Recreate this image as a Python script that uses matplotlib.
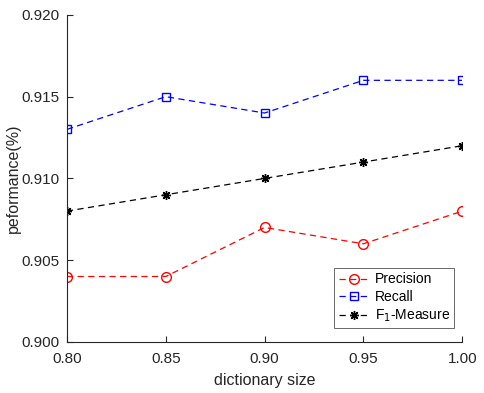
import matplotlib
matplotlib.use("Agg")
import matplotlib.pyplot as plt

plt.rcParams['font.family'] = ['Liberation Sans', 'DejaVu Sans']

dict_size = [0.80, 0.85, 0.90, 0.95, 1.00]
precision = [0.904, 0.904, 0.907, 0.906, 0.908]
recall = [0.913, 0.915, 0.914, 0.916, 0.916]
f1 = [0.908, 0.909, 0.910, 0.911, 0.912]
xticks = [0.80, 0.85, 0.90, 0.95, 1.00]
yticks = [0.900, 0.905, 0.910, 0.915, 0.920]

fig = plt.figure(figsize=(4.85, 3.93), dpi=100)
ax = fig.add_axes([0.138, 0.130, 0.815, 0.832])

ls = (0, (5, 3.5))
ax.plot(dict_size, precision, linestyle=ls, marker='o', color='#ff0000', mfc='none', ms=7, lw=0.9, label='Precision')
ax.plot(dict_size, recall, linestyle=ls, marker='s', color='#0000ff', mfc='none', ms=5.5, lw=0.9, label='Recall')
ax.plot(dict_size, f1, linestyle=ls, marker=(8, 2, 0), color='#000000', ms=6.5, mew=1.0, lw=0.9, label='F$_1$-Measure')

ax.set_xlim(0.80, 1.00)
ax.set_ylim(0.900, 0.920)
ax.set_xticks(xticks)
ax.set_xticklabels([f"{v:.2f}" for v in xticks])
ax.set_yticks(yticks)
ax.set_yticklabels([f"{v:.3f}" for v in yticks])
ax.spines['top'].set_visible(False)
ax.spines['right'].set_visible(False)
for s in ['left', 'bottom']:
    ax.spines[s].set_color('#262626')
    ax.spines[s].set_linewidth(0.8)
ax.tick_params(direction='in', length=4, colors='#262626', labelsize=11, width=0.8)
ax.tick_params(axis='x', pad=7)
ax.tick_params(axis='y', pad=5)
ax.set_xlabel('dictionary size', fontsize=11.5, color='#262626', labelpad=5)
ax.set_ylabel('peformance(%)', fontsize=11.5, color='#262626', labelpad=1)

leg = ax.legend(loc='lower right', bbox_to_anchor=(0.99, 0.03), fontsize=10, frameon=True,
                fancybox=False, edgecolor='#262626', handlelength=2.2, borderpad=0.3,
                labelspacing=0.25, handletextpad=0.4, borderaxespad=0.3)
leg.get_frame().set_linewidth(0.6)

fig.savefig('out.png', dpi=100)
